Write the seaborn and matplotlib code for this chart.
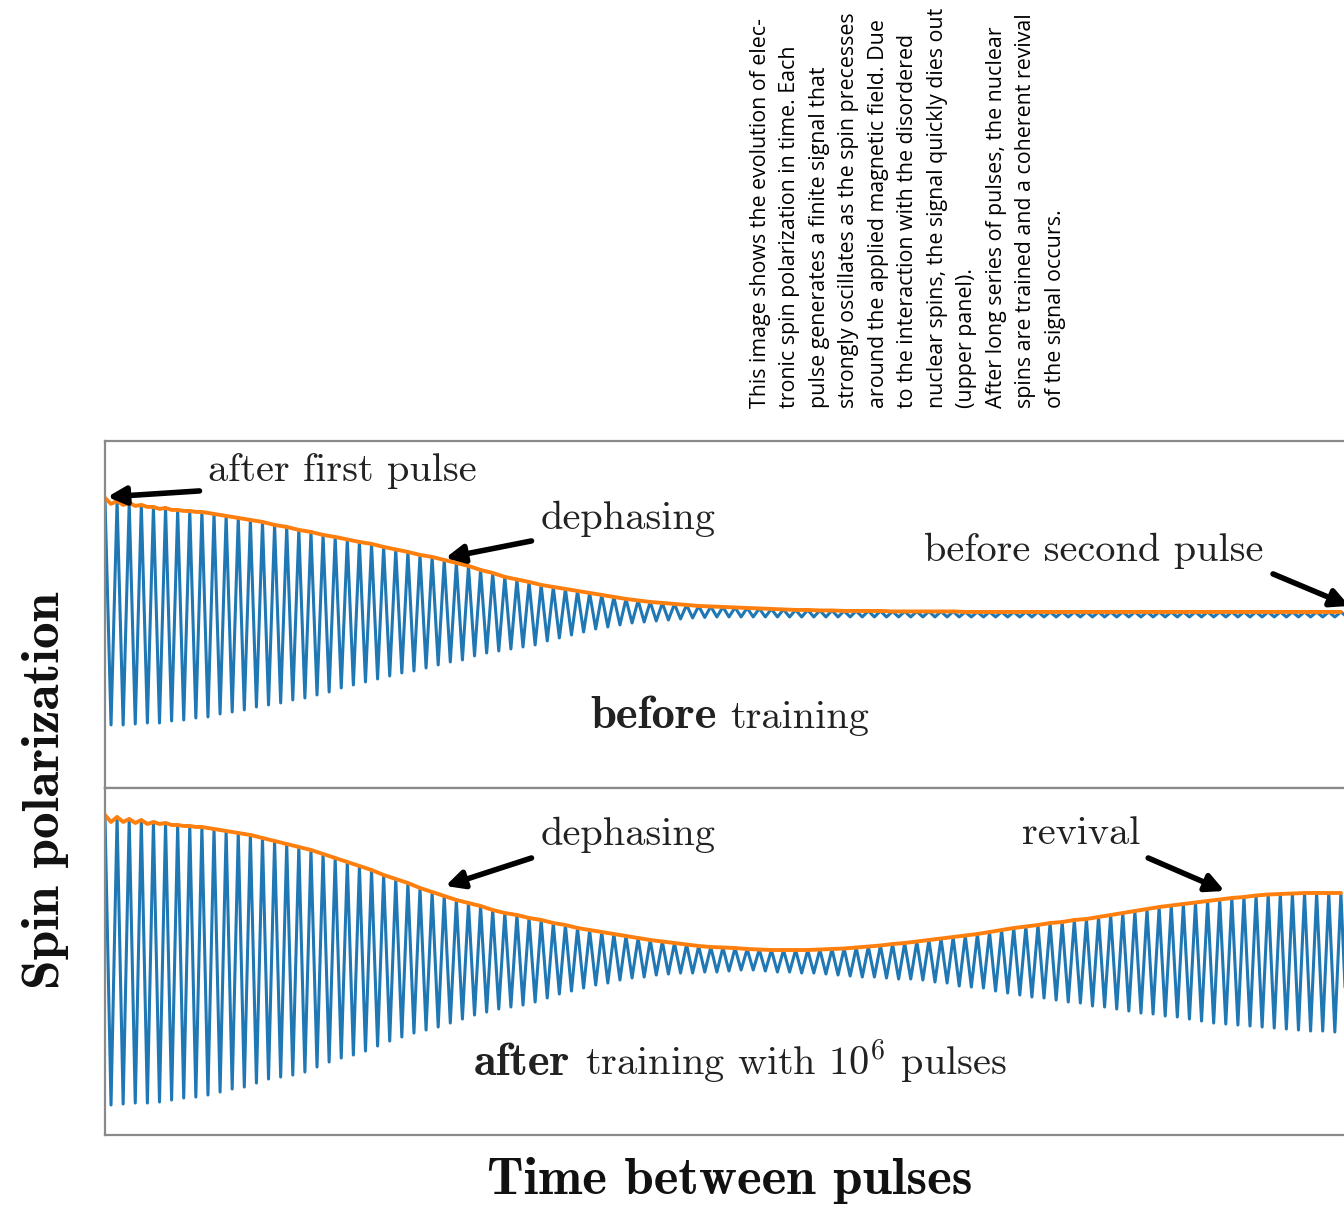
import numpy as np
import pandas as pd
import matplotlib
matplotlib.use("Agg")
import matplotlib.pyplot as plt
import seaborn as sns

# Peak / trough of every precession cycle
# (upper panel: before training, lower panel: after training)
CYCLES = np.arange(103)

up_peak = [1.16, 1.13, 1.11, 1.09, 1.07, 1.06, 1.04, 1.03, 1.02, 1.00,
           0.98, 0.96, 0.94, 0.92, 0.89, 0.87, 0.84, 0.82, 0.79, 0.77,
           0.745, 0.72, 0.70, 0.67, 0.645, 0.62, 0.59, 0.57, 0.54, 0.51,
           0.48, 0.44, 0.41, 0.37, 0.345, 0.32, 0.29, 0.27, 0.25, 0.23,
           0.21, 0.19, 0.17, 0.15, 0.135, 0.12, 0.11, 0.10, 0.09, 0.08,
           0.075, 0.07, 0.065, 0.06, 0.055, 0.05, 0.045, 0.04, 0.04, 0.035,
           0.035, 0.03, 0.03, 0.03, 0.03, 0.025, 0.025, 0.025, 0.025, 0.025,
           0.025, 0.02, 0.02, 0.02, 0.02, 0.02, 0.02, 0.02, 0.02, 0.02,
           0.02, 0.02, 0.02, 0.02, 0.02, 0.02, 0.02, 0.02, 0.02, 0.02,
           0.02, 0.02, 0.02, 0.02, 0.02, 0.02, 0.02, 0.02, 0.02, 0.02,
           0.02, 0.02, 0.02]

up_trough = [-1.11, -1.11, -1.10, -1.09, -1.09, -1.07, -1.06, -1.04, -1.03, -1.00,
             -0.98, -0.96, -0.93, -0.91, -0.89, -0.86, -0.84, -0.81, -0.78, -0.74,
             -0.71, -0.68, -0.65, -0.62, -0.59, -0.57, -0.54, -0.51, -0.48, -0.46,
             -0.42, -0.39, -0.37, -0.35, -0.33, -0.31, -0.27, -0.24, -0.21, -0.18,
             -0.15, -0.13, -0.11, -0.09, -0.08, -0.07, -0.06, -0.05, -0.04, -0.035,
             -0.03, -0.03, -0.03, -0.03, -0.03, -0.03, -0.03, -0.03, -0.03, -0.03,
             -0.03, -0.03, -0.03, -0.03, -0.03, -0.03, -0.03, -0.03, -0.03, -0.03,
             -0.03, -0.03, -0.03, -0.03, -0.03, -0.03, -0.03, -0.03, -0.03, -0.03,
             -0.03, -0.03, -0.03, -0.03, -0.03, -0.03, -0.03, -0.03, -0.03, -0.03,
             -0.03, -0.03, -0.03, -0.03, -0.03, -0.03, -0.03, -0.03, -0.03, -0.03,
             -0.03, -0.03, -0.03]

lo_peak = [1.46, 1.44, 1.42, 1.41, 1.39, 1.38, 1.36, 1.35, 1.34, 1.32,
           1.30, 1.28, 1.26, 1.23, 1.20, 1.17, 1.14, 1.11, 1.07, 1.03,
           0.99, 0.95, 0.91, 0.86, 0.82, 0.78, 0.73, 0.69, 0.65, 0.61,
           0.58, 0.55, 0.51, 0.48, 0.46, 0.43, 0.41, 0.38, 0.36, 0.33,
           0.31, 0.29, 0.27, 0.25, 0.23, 0.21, 0.195, 0.18, 0.165, 0.15,
           0.14, 0.135, 0.13, 0.12, 0.115, 0.11, 0.11, 0.11, 0.11, 0.115,
           0.12, 0.125, 0.135, 0.145, 0.155, 0.17, 0.18, 0.195, 0.21, 0.225,
           0.24, 0.255, 0.27, 0.29, 0.31, 0.33, 0.345, 0.36, 0.38, 0.39,
           0.41, 0.42, 0.44, 0.46, 0.48, 0.50, 0.52, 0.54, 0.555, 0.57,
           0.585, 0.60, 0.615, 0.63, 0.64, 0.655, 0.665, 0.67, 0.675, 0.68,
           0.68, 0.68, 0.68]

lo_trough = [-1.44, -1.43, -1.42, -1.42, -1.41, -1.39, -1.37, -1.36, -1.34, -1.31,
             -1.28, -1.26, -1.22, -1.18, -1.16, -1.14, -1.11, -1.06, -1.01, -0.97,
             -0.94, -0.90, -0.85, -0.80, -0.76, -0.72, -0.69, -0.66, -0.62, -0.58,
             -0.54, -0.51, -0.48, -0.46, -0.44, -0.41, -0.37, -0.33, -0.30, -0.27,
             -0.24, -0.22, -0.19, -0.17, -0.16, -0.14, -0.13, -0.12, -0.12, -0.11,
             -0.11, -0.10, -0.09, -0.09, -0.10, -0.11, -0.11, -0.12, -0.12, -0.13,
             -0.14, -0.15, -0.16, -0.16, -0.17, -0.18, -0.18, -0.19, -0.21, -0.22,
             -0.25, -0.26, -0.27, -0.30, -0.32, -0.34, -0.36, -0.37, -0.39, -0.41,
             -0.42, -0.45, -0.46, -0.48, -0.50, -0.52, -0.53, -0.55, -0.56, -0.58,
             -0.60, -0.62, -0.63, -0.64, -0.65, -0.66, -0.67, -0.68, -0.69, -0.70,
             -0.70, -0.71, -0.71]

# envelope ripple over the first 8 cycles, sampled every half cycle
up_env_head = [1.16, 1.10, 1.13, 1.09, 1.11, 1.08, 1.09, 1.07,
               1.07, 1.05, 1.06, 1.04, 1.04, 1.03, 1.03, 1.02]
lo_env_head = [1.46, 1.39, 1.44, 1.39, 1.42, 1.38, 1.41, 1.37,
               1.39, 1.37, 1.38, 1.36, 1.36, 1.35, 1.35, 1.34]
HEAD = 8

CAPTION = ("This image shows the evolution of elec-\n"
           "tronic spin polarization in time. Each\n"
           "pulse generates a finite signal that\n"
           "strongly oscillates as the spin precesses\n"
           "around the applied magnetic field. Due\n"
           "to the interaction with the disordered\n"
           "nuclear spins, the signal quickly dies out\n"
           "(upper panel).\n"
           "After long series of pulses, the nuclear\n"
           "spins are trained and a coherent revival\n"
           "of the signal occurs.")

BLUE, ORANGE = sns.color_palette("tab10")[0], sns.color_palette("tab10")[1]


def signal_frame(peaks, troughs):
    """Zig-zag through peak (integer cycle) and trough (half cycle)."""
    x = np.empty(2 * len(CYCLES))
    y = np.empty(2 * len(CYCLES))
    x[0::2], x[1::2] = CYCLES, CYCLES + 0.5
    y[0::2], y[1::2] = peaks, troughs
    return pd.DataFrame({"t": x, "s": y})


def envelope_frame(head, peaks):
    xh = np.arange(len(head)) * 0.5
    x = np.concatenate([xh, CYCLES[HEAD:]])
    y = np.concatenate([head, np.asarray(peaks)[HEAD:]])
    return pd.DataFrame({"t": x, "s": y})


sns.set_theme(style="white")
plt.rcParams["mathtext.fontset"] = "cm"
plt.rcParams["font.family"] = ["cmr10", "DejaVu Serif"]
plt.rcParams["axes.formatter.use_mathtext"] = True

fig = plt.figure(figsize=(13.44, 12.08), dpi=100)
ax_top = fig.add_axes([0.0781, 0.3477, 0.9286, 0.2873])
ax_bot = fig.add_axes([0.0781, 0.0604, 0.9286, 0.2873])

panels = [(ax_top, up_peak, up_trough, up_env_head),
          (ax_bot, lo_peak, lo_trough, lo_env_head)]
for ax, pk, tr, head in panels:
    sns.lineplot(data=signal_frame(pk, tr), x="t", y="s", sort=False,
                 estimator=None, color=BLUE, lw=2.2, ax=ax)
    sns.lineplot(data=envelope_frame(head, pk), x="t", y="s", sort=False,
                 estimator=None, color=ORANGE, lw=2.8, ax=ax)
    for line in ax.lines:
        line.set_solid_joinstyle("round")
    ax.set_xlim(0, 103)
    ax.set_ylim(-1.74, 1.73)
    ax.set_xticks([])
    ax.set_yticks([])
    ax.set_xlabel("")
    ax.set_ylabel("")
    for sp in ax.spines.values():
        sp.set_color("#8a8a8a")
        sp.set_linewidth(1.6)

INK = "#222222"
TXT = dict(fontsize=29, color=INK, ha="center", va="center")
ARR = dict(arrowstyle="-|>,head_length=0.9,head_width=0.45", lw=4.0,
           color="black", shrinkA=0, shrinkB=0)

ax_top.text(19.6, 1.43, "after first pulse", **TXT)
ax_top.annotate("", xy=(0.2, 1.17), xytext=(7.8, 1.23), arrowprops=ARR)
ax_top.text(43.2, 0.95, "dephasing", **TXT)
ax_top.annotate("", xy=(28.1, 0.56), xytext=(35.2, 0.73), arrowprops=ARR)
ax_top.text(81.6, 0.63, "before second pulse", **TXT)
ax_top.annotate("", xy=(102.7, 0.08), xytext=(96.4, 0.40), arrowprops=ARR)
# panel tags: bold word in a slightly larger bold face, rest in roman
ax_top.text(50.5, -1.14, "before", family="cmb10", fontsize=33.5, color=INK,
            ha="right", va="baseline")
ax_top.text(51.6, -1.14, "training", fontsize=29, color=INK,
            ha="left", va="baseline")

ax_bot.text(43.2, 1.26, "dephasing", **TXT)
ax_bot.annotate("", xy=(28.1, 0.75), xytext=(35.2, 1.03), arrowprops=ARR)
ax_bot.text(80.6, 1.27, "revival", **TXT)
ax_bot.annotate("", xy=(92.4, 0.70), xytext=(86.1, 1.03), arrowprops=ARR)
ax_bot.text(38.4, -1.14, "after", family="cmb10", fontsize=33.5, color=INK,
            ha="right", va="baseline")
ax_bot.text(39.6, -1.14, r"training with $10^6$ pulses", fontsize=29,
            color=INK, ha="left", va="baseline")

fig.text(0.0335, 0.346, "Spin polarization", family="cmb10", rotation=90,
         fontsize=38.5, ha="center", va="center", color="#111111")
fig.text(0.543, 1 - 1194 / 1208, "Time between pulses", family="cmb10",
         fontsize=38, ha="center", va="baseline", color="#111111")

fig.text(750 / 1344, 1 - 408 / 1208, CAPTION, rotation=90, ha="left",
         va="bottom", multialignment="left", fontsize=15.4, linespacing=1.53,
         family=["Open Sans", "DejaVu Sans"], color="black")

fig.savefig("out.png", dpi=100)
plt.close(fig)
